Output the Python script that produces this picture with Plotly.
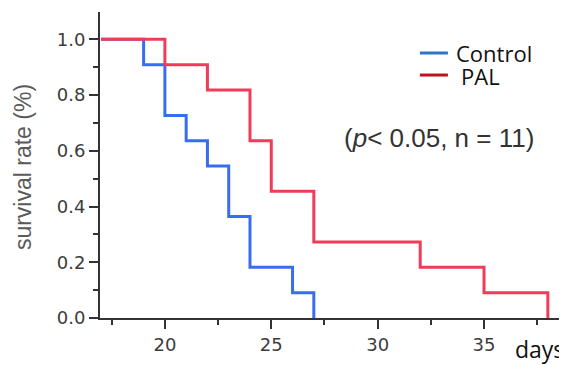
import plotly.graph_objects as go

# Kaplan-Meier step data (n = 11 per group)
control_days = [17, 19, 20, 21, 22, 23, 24, 26, 27]
control_surv = [1.0, 0.909, 0.727, 0.636, 0.545, 0.364, 0.182, 0.091, 0.0]
pal_days = [17, 20, 22, 24, 25, 27, 32, 35, 38]
pal_surv = [1.0, 0.909, 0.818, 0.636, 0.455, 0.273, 0.182, 0.091, 0.0]

x_ticks = [20, 25, 30, 35]
y_ticks = [0.0, 0.2, 0.4, 0.6, 0.8, 1.0]

fig = go.Figure()
fig.add_trace(go.Scatter(x=control_days, y=control_surv, mode="lines", line_shape="hv",
                         line=dict(color="#3a6cf2", width=3), showlegend=False))
fig.add_trace(go.Scatter(x=pal_days, y=pal_surv, mode="lines", line_shape="hv",
                         line=dict(color="#ef3c58", width=3), showlegend=False))

axis_common = dict(showline=True, linecolor="#333333", linewidth=2, ticks="outside",
                   tickcolor="#333333", tickwidth=2, ticklen=9, showgrid=False, zeroline=False,
                   tickfont=dict(family="DejaVu Sans", size=18, color="#3c3c3c"))

# legend drawn as sample lines + labels
shapes = [
    dict(type="line", xref="paper", yref="paper", x0=0.685, x1=0.745, y0=0.866, y1=0.866,
         line=dict(color="#2e75c8", width=3)),
    dict(type="line", xref="paper", yref="paper", x0=0.685, x1=0.745, y0=0.794, y1=0.794,
         line=dict(color="#c0101e", width=3)),
]

fig.update_layout(
    width=559, height=357,
    margin=dict(l=92, r=0, t=4, b=47),
    paper_bgcolor="white", plot_bgcolor="white",
    showlegend=False,
    xaxis=dict(range=[16.95, 38.9], tickvals=x_ticks,
               minor=dict(ticks="outside", ticklen=5, tickwidth=2, tickcolor="#333333", dtick=2.5, tick0=0),
               **axis_common),
    yaxis=dict(range=[0, 1.098], tickvals=y_ticks, tickformat=".1f",
               minor=dict(ticks="outside", ticklen=5, tickwidth=2, tickcolor="#333333", dtick=0.1, tick0=0),
               **axis_common),
    shapes=shapes,
    annotations=[
        dict(text="survival rate (%)", x=-0.165, y=0.493, xref="paper", yref="paper",
             xanchor="center", yanchor="middle", textangle=-90, showarrow=False,
             font=dict(family="Liberation Sans", size=23, color="#5a5a5a")),
        dict(text="Control", x=0.757, y=0.866, xref="paper", yref="paper", xanchor="left",
             yanchor="middle", showarrow=False,
             font=dict(family="Open Sans", size=22, color="#111111")),
        dict(text="PAL", x=0.768, y=0.79, xref="paper", yref="paper", xanchor="left",
             yanchor="middle", showarrow=False,
             font=dict(family="Open Sans", size=22, color="#111111")),
        dict(text="(<i>p</i>< 0.05, n = 11)", x=0.726, y=0.588, xref="paper", yref="paper",
             xanchor="center", yanchor="middle", showarrow=False,
             font=dict(family="Liberation Sans", size=26, color="#333333")),
        dict(text="days", x=0.998, y=-0.101, xref="paper", yref="paper", xanchor="right",
             yanchor="middle", showarrow=False,
             font=dict(family="Open Sans", size=23, color="#111111")),
    ],
)

fig.write_html("out.html")
